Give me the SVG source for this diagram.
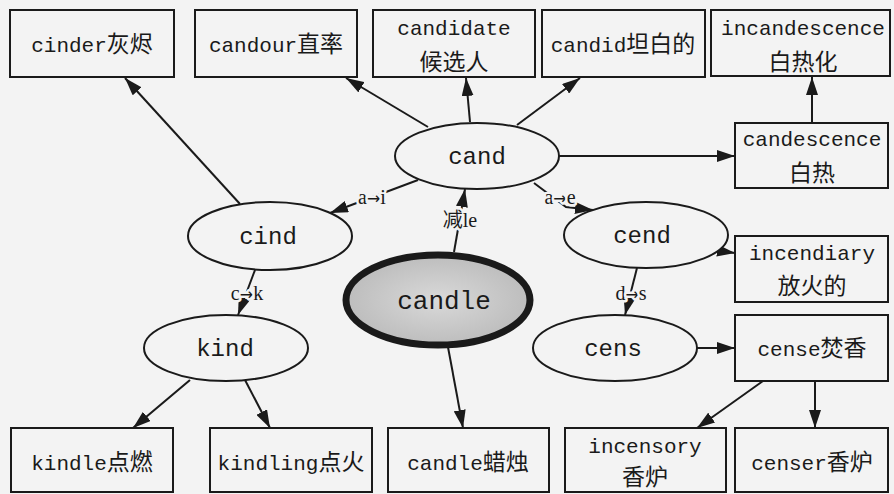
<svg xmlns="http://www.w3.org/2000/svg" width="894" height="494" viewBox="0 0 894 494">
<style>
.box{fill:none;stroke:#1a1a1a;stroke-width:2}
.ell{fill:#f3f3f3;stroke:#1a1a1a;stroke-width:2}
.t{font-family:"Liberation Mono","Noto Sans CJK SC",monospace;font-size:21px;fill:#1a1a1a;text-anchor:middle}
.c{font-family:"Noto Sans CJK SC",sans-serif;font-size:23px}
.n{font-size:24px}
.big{font-size:26px}
.e{fill:none;stroke:#1a1a1a;stroke-width:2;marker-end:url(#arr)}
.lb{font-family:"Liberation Serif","Noto Sans CJK SC",serif;font-size:20px;fill:#1a1a1a;text-anchor:middle;paint-order:stroke;stroke:#f3f3f3;stroke-width:5;stroke-linejoin:round}
.ar{font-family:"DejaVu Sans",sans-serif;font-size:16px}
</style>
<defs>
<marker id="arr" viewBox="0 0 18 12" refX="18" refY="6" markerWidth="18" markerHeight="12" markerUnits="userSpaceOnUse" orient="auto">
<path d="M0,0 L18,6 L0,12 z" fill="#1a1a1a"/>
</marker>
<radialGradient id="gc" cx="0.5" cy="0.5" r="0.5">
<stop offset="0" stop-color="#d9d9d9"/>
<stop offset="1" stop-color="#bdbdbd"/>
</radialGradient>
</defs>
<rect width="894" height="494" fill="#f3f3f3"/>
<g id="connectors">
<path class="e" d="M240 204 L125 78"/>
<path class="e" d="M428 127 L346 78"/>
<path class="e" d="M470 122 L466 78"/>
<path class="e" d="M517 125 L580 78"/>
<path class="e" d="M559 156 L735 156"/>
<path class="e" d="M812 123 L812 77"/>
<path class="e" d="M418 180 L330 213"/>
<text class="lb" x="372" y="204">a<tspan class="ar">→</tspan>i</text>
<path class="e" d="M454 252 L465 189"/>
<text class="lb" x="460" y="227">减le</text>
<path class="e" d="M534 183 L566 207 L593 210"/>
<text class="lb" x="560" y="204">a<tspan class="ar">→</tspan>e</text>
<path class="e" d="M726 230 C729 242 724 248 713 250 L735 253"/>
<path class="e" d="M637 268 L625 315"/>
<text class="lb" x="631" y="300">d<tspan class="ar">→</tspan>s</text>
<path class="e" d="M255 270 L238 315"/>
<text class="lb" x="247" y="300">c<tspan class="ar">→</tspan>k</text>
<path class="e" d="M190 380 L133 428"/>
<path class="e" d="M245 380 L270 428"/>
<path class="e" d="M448 347 L463 428"/>
<path class="e" d="M697 348 L735 348"/>
<path class="e" d="M763 381 L697 428"/>
<path class="e" d="M815 381 L815 428"/>
</g>
<g id="cinder"><rect class="box" x="10" y="10" width="164" height="67"/><text class="t" x="92" y="52">cinder<tspan class="c">灰烬</tspan></text></g>
<g id="candour"><rect class="box" x="195" y="10" width="162" height="67"/><text class="t" x="276" y="52">candour<tspan class="c">直率</tspan></text></g>
<g id="candidate"><rect class="box" x="373" y="10" width="162" height="67"/><text class="t" x="454" y="35">candidate</text><text class="t c" x="454" y="70">候选人</text></g>
<g id="candid"><rect class="box" x="542" y="10" width="163" height="67"/><text class="t" x="623" y="52">candid<tspan class="c">坦白的</tspan></text></g>
<g id="incandescence"><rect class="box" x="711" y="10" width="179" height="66"/><text class="t" x="803" y="35">incandescence</text><text class="t c" x="803" y="70">白热化</text></g>
<g id="candescence"><rect class="box" x="735" y="123" width="153" height="65"/><text class="t" x="812" y="146">candescence</text><text class="t c" x="812" y="181">白热</text></g>
<g id="incendiary"><rect class="box" x="735" y="236" width="153" height="66"/><text class="t" x="812" y="260">incendiary</text><text class="t c" x="812" y="294">放火的</text></g>
<g id="cense"><rect class="box" x="735" y="315" width="153" height="66"/><text class="t" x="812" y="356">cense<tspan class="c">焚香</tspan></text></g>
<g id="kindle"><rect class="box" x="11" y="428" width="162" height="64"/><text class="t" x="92" y="470">kindle<tspan class="c">点燃</tspan></text></g>
<g id="kindling"><rect class="box" x="210" y="428" width="162" height="64"/><text class="t" x="291" y="470">kindling<tspan class="c">点火</tspan></text></g>
<g id="candle-box"><rect class="box" x="388" y="428" width="161" height="64"/><text class="t" x="468" y="470">candle<tspan class="c">蜡烛</tspan></text></g>
<g id="incensory"><rect class="box" x="565" y="428" width="161" height="64"/><text class="t" x="645" y="453">incensory</text><text class="t c" x="645" y="485">香炉</text></g>
<g id="censer"><rect class="box" x="735" y="428" width="153" height="64"/><text class="t" x="812" y="470">censer<tspan class="c">香炉</tspan></text></g>
<g id="cand"><ellipse class="ell" cx="477" cy="156" rx="82" ry="33"/><text class="t n" x="477" y="164">cand</text></g>
<g id="cind"><ellipse class="ell" cx="270" cy="236" rx="82" ry="34"/><text class="t n" x="268" y="244">cind</text></g>
<g id="cend"><ellipse class="ell" cx="646" cy="235" rx="82" ry="33"/><text class="t n" x="642" y="243">cend</text></g>
<g id="cens"><ellipse class="ell" cx="615" cy="348" rx="82" ry="33"/><text class="t n" x="613" y="356">cens</text></g>
<g id="kind"><ellipse class="ell" cx="226" cy="348" rx="82" ry="33"/><text class="t n" x="225" y="356">kind</text></g>
<g id="candle"><ellipse cx="438" cy="300" rx="92" ry="45" fill="url(#gc)" stroke="#1a1a1a" stroke-width="7"/><text class="t big" x="444" y="309">candle</text></g>
</svg>
